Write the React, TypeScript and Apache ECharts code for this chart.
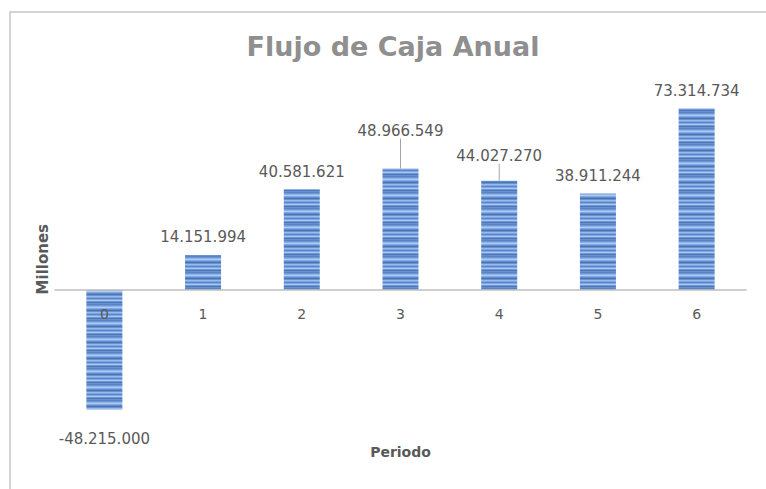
import React, { useEffect, useRef } from "react";
import * as echarts from "echarts";

// Periods and yearly cash flow (pesos)
const periods = ["0", "1", "2", "3", "4", "5", "6"];
const cashFlow = [-48215000, 14151994, 40581621, 48966549, 44027270, 38911244, 73314734];
// extra upward shift of the value labels (px) that need a leader line
const labelShift = [0, 0, 0, -20, -7, 0, 0];

// rows of the striped bar fill, top to bottom
const stripeRows = [
  "#5684c8", "#6c97d6", "#8fb1e4", "#b3cbef", "#86a8de", "#5f8ccd", "#4775b9", "#6892d3",
  "#9dbbe9", "#7ea3dc", "#5b87ca", "#82a6de", "#aac5ee", "#7199d7", "#4b78bb", "#6690d1",
];

const fmt = (v: number) => {
  const s = Math.abs(Math.round(v)).toString().replace(/\B(?=(\d{3})+(?!\d))/g, ".");
  return (v < 0 ? "-" : "") + s;
};

function makeStripes(): HTMLCanvasElement {
  const c = document.createElement("canvas");
  c.width = 4;
  c.height = stripeRows.length;
  const ctx = c.getContext("2d")!;
  stripeRows.forEach((col, i) => {
    ctx.fillStyle = col;
    ctx.fillRect(0, i, 4, 1);
  });
  return c;
}

export default function App() {
  const ref = useRef<HTMLDivElement>(null);

  useEffect(() => {
    if (!ref.current) return;
    const chart = echarts.init(ref.current, undefined, { renderer: "svg" });
    const stripes = makeStripes();
    const font = "DejaVu Sans";

    chart.setOption({
      animation: false,
      backgroundColor: "#ffffff",
      graphic: [
        {
          type: "rect",
          shape: { x: 10, y: 12, width: 820, height: 520 },
          style: { fill: "none", stroke: "#d4d4d4", lineWidth: 2 },
          silent: true,
        },
        {
          type: "text",
          x: 393,
          y: 46,
          style: {
            text: "Flujo de Caja Anual",
            font: `bold 27px "${font}"`,
            fill: "#8f8f8f",
            textAlign: "center",
            textVerticalAlign: "middle",
          },
        },
      ],
      grid: {
        left: 55,
        right: 20,
        top: 91.6,
        bottom: 50.2,
        containLabel: false,
        outerBoundsMode: "none",
      },
      xAxis: {
        type: "category",
        data: periods,
        z: 5,
        axisLine: { onZero: true, lineStyle: { color: "#bfbfbf", width: 1.5 } },
        axisTick: { show: false },
        // the labels sit at the grid's bottom edge; pull them up under the zero line
        axisLabel: { margin: -132, color: "#595959", fontSize: 14, fontFamily: font },
        name: "Periodo",
        nameLocation: "middle",
        nameGap: 6,
        nameTextStyle: { color: "#595959", fontSize: 14, fontWeight: "bold", fontFamily: font },
      },
      yAxis: {
        type: "value",
        min: -60000000,
        max: 80000000,
        axisLine: { show: false },
        axisTick: { show: false },
        axisLabel: { show: false },
        splitLine: { show: false },
        name: "Millones",
        nameLocation: "middle",
        nameRotate: 90,
        nameGap: 5,
        nameTextStyle: {
          color: "#595959",
          fontSize: 15,
          fontWeight: "bold",
          fontFamily: font,
          padding: [0, 0, 0, 12],
        },
      },
      series: [
        {
          type: "bar",
          barWidth: 36,
          itemStyle: { color: { image: stripes, repeat: "repeat" } },
          label: {
            show: true,
            position: "top",
            distance: 10,
            color: "#595959",
            fontSize: 15,
            fontFamily: font,
            formatter: (p: any) => fmt(p.value),
          },
          labelLayout: (p: any) => ({ dy: labelShift[p.dataIndex] || 0 }),
          data: cashFlow.map((v, i) => {
            const item: any = { value: v };
            if (v < 0) item.label = { position: "bottom", distance: 22 };
            if (labelShift[i] !== 0) {
              item.labelLine = { show: true, lineStyle: { color: "#a6a6a6", width: 1 } };
            }
            return item;
          }),
        },
      ],
    });

    return () => chart.dispose();
  }, []);

  return (
    <div
      ref={ref}
      style={{ position: "fixed", left: 0, top: 0, width: 766, height: 489 }}
    />
  );
}
